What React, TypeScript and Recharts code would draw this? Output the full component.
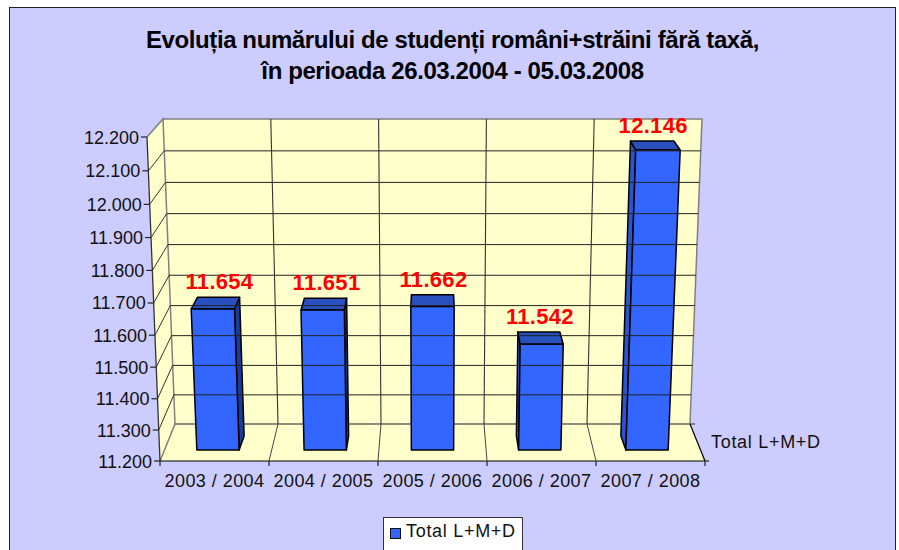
import React from 'react';
import { BarChart, Bar, XAxis, YAxis, Legend, LabelList } from 'recharts';

const categories = ['2003 / 2004', '2004 / 2005', '2005 / 2006', '2006 / 2007', '2007 / 2008'];
const studentValues = [11654, 11651, 11662, 11542, 12146];
const yTicks = [11200, 11300, 11400, 11500, 11600, 11700, 11800, 11900, 12000, 12100, 12200];
const seriesName = 'Total L+M+D';
const titleLines = [
  'Evoluția numărului de studenți români+străini fără taxă,',
  'în perioada 26.03.2004 - 05.03.2008',
];

const data = categories.map((period, i) => ({ period, total: studentValues[i] }));

const FONT = '"Liberation Sans", Arial, sans-serif';
const TEXT_COLOR = '#111111';
const LEFT = 160;
const RIGHT = 705;
const TOP = 137;
const BOTTOM = 461;
const CENTER = (LEFT + RIGHT) / 2;
const BACK_BOTTOM = 424;
const BACK_TOP = 119;

const formatValue = (v: number) => String(v).replace(/\B(?=(\d{3})+$)/g, '.');

// fake 3D projection of the excel chart: everything starts from recharts' scale output
const warpY = (y: number) => {
  const t = BOTTOM - y;
  return BOTTOM - (t - 0.000152 * t * (BOTTOM - TOP - t));
};
const backY = (y: number) => BACK_BOTTOM - ((BOTTOM - warpY(y)) * (BACK_BOTTOM - BACK_TOP)) / (BOTTOM - TOP);
const backX = (x: number, yb: number) =>
  CENTER + (x - CENTER) * (0.945 + ((BACK_BOTTOM - yb) * 0.044) / (BACK_BOTTOM - BACK_TOP));
const axisX = (y: number) => LEFT - ((BOTTOM - y) * 13) / (BOTTOM - TOP);

const planeY = (y: number) => {
  const t = BOTTOM - y;
  return 450 - (0.9399 * t + 0.0001267 * t * t);
};
const planeX = (x: number, py: number) => CENTER + (x - CENTER) * 0.984 * (1 + 0.00017 * (450 - py));
const depthPoint = (x: number, py: number) => [x + (CENTER - x) * 0.0257, py - (9 + ((py - 150) * 5) / 300)];

const pts = (list: number[][]) => list.map((p) => p.join(',')).join(' ');

const Walls = () => (
  <g>
    <polygon points={pts([[163, BACK_TOP], [702, BACK_TOP], [690, BACK_BOTTOM], [175, BACK_BOTTOM]])} fill="#FFFFCC" />
    <polygon points={pts([[147, TOP], [163, BACK_TOP], [175, BACK_BOTTOM], [LEFT, BOTTOM]])} fill="#FFFFCC" />
    <polygon points={pts([[LEFT, BOTTOM], [175, BACK_BOTTOM], [690, BACK_BOTTOM], [RIGHT, BOTTOM]])} fill="#FFFFCC" />
    <polyline points={pts([[147, TOP], [163, BACK_TOP], [175, BACK_BOTTOM], [LEFT, BOTTOM]])} fill="none" stroke="#808080" strokeWidth={1.5} />
    <polyline points={pts([[163, BACK_TOP], [702, BACK_TOP], [690, BACK_BOTTOM]])} fill="none" stroke="#808080" strokeWidth={1.5} />
    <line x1={175} y1={BACK_BOTTOM} x2={695} y2={BACK_BOTTOM} stroke="#666666" strokeWidth={1.5} />
    <line x1={690} y1={BACK_BOTTOM} x2={RIGHT} y2={BOTTOM} stroke="#000" strokeWidth={1.2} />
    <line x1={147} y1={TOP} x2={LEFT} y2={BOTTOM} stroke="#333333" strokeWidth={1.3} />
    <line x1={LEFT} y1={BOTTOM} x2={RIGHT + 4} y2={BOTTOM} stroke="#000" strokeWidth={1.2} />
    <text x={711} y={448} fontFamily={FONT} fontSize={18} letterSpacing={0.7} fill={TEXT_COLOR}>
      {seriesName}
    </text>
    {titleLines.map((line, i) => (
      <text key={line} x={452.5} y={48 + i * 31} textAnchor="middle" fontFamily={FONT} fontSize={24} fontWeight="bold" letterSpacing={-0.4} fill="#000">
        {line}
      </text>
    ))}
  </g>
);

const YTick = ({ y, payload }: any) => {
  const wy = warpY(y);
  const ax = axisX(wy);
  const yb = backY(y);
  const isFloor = payload.value === yTicks[0];
  return (
    <g>
      {!isFloor && payload.value !== yTicks[yTicks.length - 1] && (
        <>
          <line x1={backX(LEFT, yb)} y1={yb} x2={backX(RIGHT, yb)} y2={yb} stroke="#222222" strokeWidth={1} />
          <line x1={ax} y1={wy} x2={backX(LEFT, yb)} y2={yb} stroke="#333333" strokeWidth={1} />
        </>
      )}
      <line x1={ax - 6} y1={wy} x2={ax} y2={wy} stroke="#222222" strokeWidth={1.2} />
      <text x={ax - 8} y={wy + 6.5} textAnchor="end" fontFamily={FONT} fontSize={18} fill={TEXT_COLOR}>
        {formatValue(payload.value)}
      </text>
    </g>
  );
};

const XTick = ({ x, y, payload, index }: any) => {
  const half = (RIGHT - LEFT) / categories.length / 2;
  const edges = index === categories.length - 1 ? [x - half, x + half] : [x - half];
  return (
    <g>
      {edges.map((e) => (
        <g key={e}>
          {e > LEFT + 1 && e < RIGHT - 1 && (
            <>
              <line x1={backX(e, BACK_TOP)} y1={BACK_TOP} x2={backX(e, BACK_BOTTOM)} y2={BACK_BOTTOM} stroke="#333333" strokeWidth={1.1} />
              <line x1={backX(e, BACK_BOTTOM)} y1={BACK_BOTTOM} x2={e} y2={BOTTOM} stroke="#444444" strokeWidth={1} />
            </>
          )}
          <line x1={e} y1={BOTTOM} x2={e} y2={BOTTOM + 5} stroke="#222222" strokeWidth={1.2} />
        </g>
      ))}
      <text x={x} y={487} textAnchor="middle" fontFamily={FONT} fontSize={18} letterSpacing={0.45} fill={TEXT_COLOR}>
        {payload.value}
      </text>
    </g>
  );
};

const Bar3D = ({ x, y, width, height }: any) => {
  const topY = planeY(y);
  const baseY = planeY(y + height);
  const tl = [planeX(x, topY), topY];
  const tr = [planeX(x + width, topY), topY];
  const bl = [planeX(x, baseY), baseY];
  const br = [planeX(x + width, baseY), baseY];
  const tlBack = depthPoint(tl[0], topY);
  const trBack = depthPoint(tr[0], topY);
  const blBack = depthPoint(bl[0], baseY);
  const brBack = depthPoint(br[0], baseY);
  const mid = x + width / 2;
  return (
    <g stroke="#000" strokeWidth={1.5} strokeLinejoin="round">
      {mid < CENTER - 5 && <polygon points={pts([tr, trBack, brBack, br])} fill="#1C3C9A" />}
      {mid > CENTER + 5 && <polygon points={pts([tl, tlBack, blBack, bl])} fill="#2A55D0" />}
      <polygon points={pts([tl, tlBack, trBack, tr])} fill="#2850BE" />
      <polygon points={pts([tl, tr, br, bl])} fill="#3366FF" />
    </g>
  );
};

const BarValue = ({ x, y, width, value }: any) => {
  const topY = planeY(y);
  const [cx, by] = depthPoint(planeX(x + width / 2, topY), topY);
  return (
    <text x={cx + 1} y={by - 8} textAnchor="middle" fontFamily={FONT} fontSize={22} fontWeight="bold" letterSpacing={0.3} fill="#FF0000">
      {formatValue(value)}
    </text>
  );
};

const LegendBox = () => (
  <div style={{ width: 140, height: 60, boxSizing: 'border-box', background: '#fff', border: '1px solid #333', position: 'relative', fontFamily: FONT, fontSize: 18, letterSpacing: 0.7, color: TEXT_COLOR }}>
    <span style={{ position: 'absolute', left: 6, top: 10, width: 9, height: 9, background: '#3366FF', border: '1px solid #111' }} />
    <span style={{ position: 'absolute', left: 22, top: 3, whiteSpace: 'nowrap' }}>{seriesName}</span>
  </div>
);

export default function App() {
  return (
    <div style={{ position: 'absolute', left: 0, top: 0, width: 899, height: 550, overflow: 'hidden', background: '#fff' }}>
      <div style={{ position: 'absolute', left: 9, top: 7, width: 887, height: 600, boxSizing: 'border-box', background: '#CCCCFF', border: '1px solid #222' }} />
      <div style={{ position: 'absolute', left: 0, top: 0 }}>
        <BarChart
          width={899}
          height={550}
          data={data}
          barSize={43}
          margin={{ top: TOP, right: 899 - RIGHT, bottom: 550 - BOTTOM - 30, left: LEFT - 60 }}
        >
          <Walls />
          <XAxis dataKey="period" height={30} axisLine={false} tickLine={false} interval={0} tick={<XTick />} />
          <YAxis width={60} domain={[yTicks[0], yTicks[yTicks.length - 1]]} ticks={yTicks} interval={0} axisLine={false} tickLine={false} tick={<YTick />} />
          <Legend
            layout="vertical"
            align="center"
            verticalAlign="middle"
            content={<LegendBox />}
            wrapperStyle={{ position: 'absolute', left: 383, top: 517, width: 140, margin: 0 }}
          />
          <Bar dataKey="total" name={seriesName} isAnimationActive={false} shape={(p: any) => <Bar3D {...p} />}>
            <LabelList dataKey="total" content={<BarValue />} />
          </Bar>
        </BarChart>
      </div>
    </div>
  );
}
